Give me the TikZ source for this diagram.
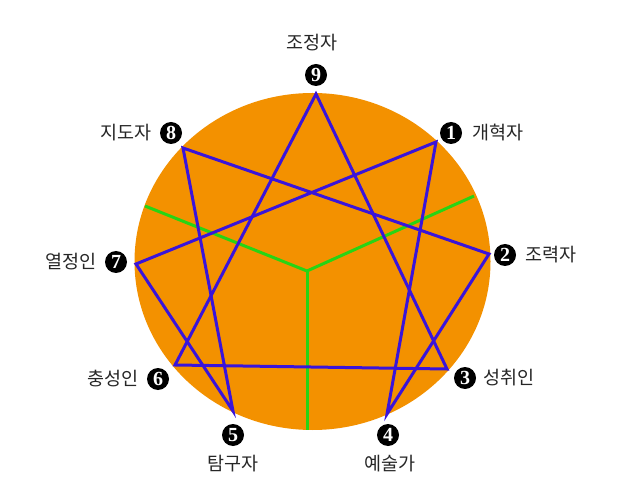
\documentclass[tikz,border=0pt]{standalone}
\usepackage{fontspec}
\setmainfont{Liberation Serif}
\newfontfamily\kofont{Noto Sans CJK KR}
\definecolor{orng}{RGB}{243,145,0}
\definecolor{vio}{RGB}{58,20,218}
\definecolor{grn}{RGB}{40,212,20}
\tikzset{
  numc/.style={circle,fill=black,text=white,inner sep=0pt,minimum size=22pt,font=\fontsize{20}{20}\selectfont\bfseries},
  lbl/.style={font=\kofont\fontsize{18.5}{18.5}\selectfont,text=black!85,inner sep=0pt},
  hexl/.style={draw=vio,line width=3pt,line join=miter},
  grl/.style={draw=grn,line width=3pt}
}
\begin{document}
\begin{tikzpicture}[x=1pt,y=-1pt]
\useasboundingbox (0,0) rectangle (623,502);
\fill[orng] (312.5,261.5) ellipse [x radius=178, y radius=168.5];
% vertices
\coordinate (v9) at (316,94);
\coordinate (v1) at (436,142);
\coordinate (v2) at (489,254);
\coordinate (v3) at (447,369);
\coordinate (v4) at (387,414);
\coordinate (v5) at (233,411);
\coordinate (v6) at (175,365);
\coordinate (v7) at (136,264);
\coordinate (v8) at (183,148);
% green lines
\coordinate (c) at (307,271);
\coordinate (g1) at (145,206);
\coordinate (g2) at (474,196);
\coordinate (g3) at (307,430);
\draw[grl] (g1) -- (c) -- (g2);
\draw[grl] (c) -- (g3);
% triangle and hexad
\draw[hexl] (v9) -- (v3) -- (v6) -- cycle;
\draw[hexl] (v1) -- (v4) -- (v2) -- (v8) -- (v5) -- (v7) -- cycle;
% number circles
\node[numc] (n9) at (316,75) {9};
\node[numc] (n1) at (451,133) {1};
\node[numc] (n2) at (505,255) {2};
\node[numc] (n3) at (465,378) {3};
\node[numc] (n4) at (388,435) {4};
\node[numc] (n5) at (233,435) {5};
\node[numc] (n6) at (158,379) {6};
\node[numc] (n7) at (116,262) {7};
\node[numc] (n8) at (171,133) {8};
% labels
\node[lbl] (l9) at (312,43) {조정자};
\node[lbl,anchor=west] (l1) at (472,133) {개혁자};
\node[lbl,anchor=west] (l2) at (525,255) {조력자};
\node[lbl,anchor=west] (l3) at (483,378) {성취인};
\node[lbl] (l4) at (390,464) {예술가};
\node[lbl] (l5) at (233,464) {탐구자};
\node[lbl,anchor=east] (l6) at (139,379) {충성인};
\node[lbl,anchor=east] (l7) at (97,262) {열정인};
\node[lbl,anchor=east] (l8) at (152,133) {지도자};
\end{tikzpicture}
\end{document}
